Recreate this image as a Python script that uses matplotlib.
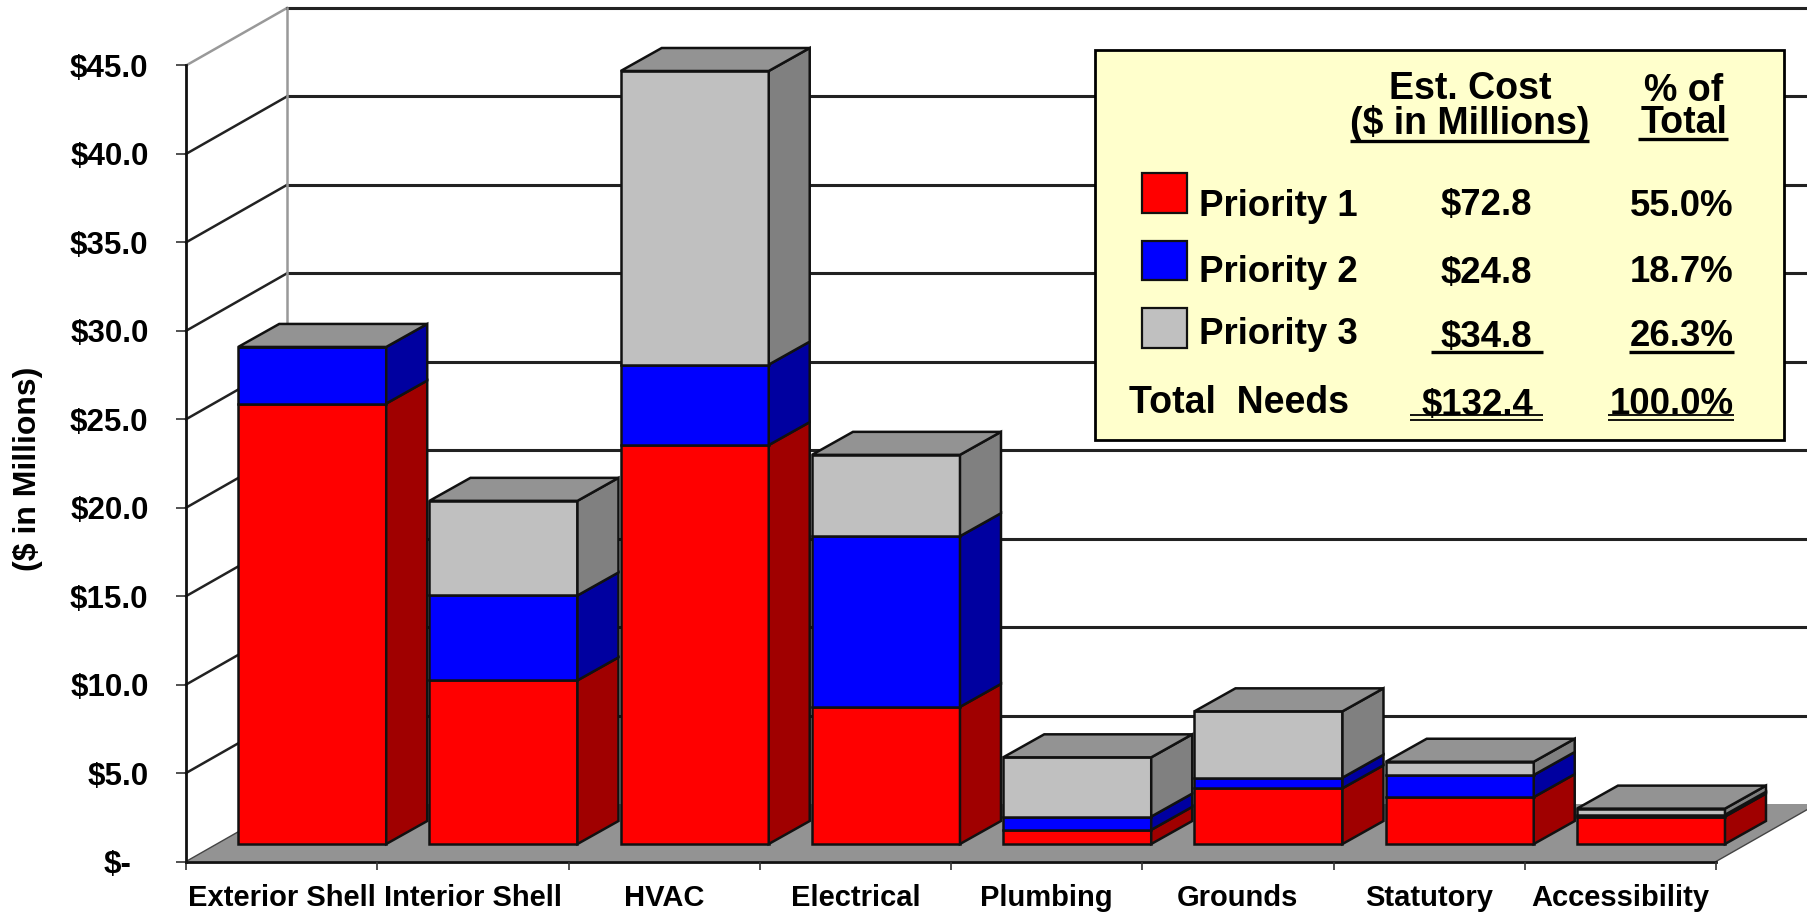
import numpy as np
import matplotlib
matplotlib.use("Agg")
import matplotlib.pyplot as plt
from matplotlib.patches import Polygon, Rectangle
from matplotlib.transforms import ScaledTranslation

plt.rcParams['font.family'] = ['Liberation Sans', 'DejaVu Sans']
plt.rcParams['font.weight'] = 'bold'

W, H = 1807, 913

# data
categories = ['Exterior Shell', 'Interior Shell', 'HVAC', 'Electrical',
              'Plumbing', 'Grounds', 'Statutory', 'Accessibility']
priority1 = [24.9, 9.25, 22.55, 7.75, 0.8, 3.15, 2.65, 1.55]
priority2 = [3.2, 4.8, 4.55, 9.65, 0.75, 0.6, 1.25, 0.1]
priority3 = [0.0, 5.35, 16.6, 4.6, 3.35, 3.75, 0.75, 0.35]
y_ticks = [0, 5, 10, 15, 20, 25, 30, 35, 40, 45]
y_labels = ['$-', '$5.0', '$10.0', '$15.0', '$20.0', '$25.0', '$30.0', '$35.0', '$40.0', '$45.0']

legend_names = ['Priority 1', 'Priority 2', 'Priority 3']
legend_costs = ['$72.8', '$24.8', '$34.8']
legend_pcts = ['55.0%', '18.7%', '26.3%']
total_cost = '$132.4'
total_pct = '100.0%'

# colours: front, side
front_cols = ['#FF0000', '#0000FF', '#C0C0C0']
side_cols = ['#A00000', '#0000A0', '#808080']
top_col = '#939393'
ink = '#111111'

fig = plt.figure(figsize=(W/100, H/100), dpi=100)
# the axes box is the front plane of the chart
ax = fig.add_axes([186/W, 1-861.5/H, 1530/W, 796/H])
ax.set_xlim(0, 8)
ax.set_ylim(0, 45)
ux, uy = 1530/8, 796/45  # pixels per data unit

# wall depth and bar depth, in data units
wall_dx, wall_dy = 101/ux, 57.5/uy
bar_dx, bar_dy = 41/ux, 23/uy
lift_x, lift_y = 30.6/ux, 17.5/uy
bar_w = 148/ux

# floor
ax.add_patch(Polygon([(0, 0), (8, 0), (8+wall_dx, wall_dy), (wall_dx, wall_dy)],
                     closed=True, fc=top_col, ec='none', clip_on=False, zorder=1))
ax.plot([8, 8+wall_dx], [0, wall_dy], color='#444444', lw=1, clip_on=False, zorder=1.1)
ax.plot([0, 8], [0, 0], color=ink, lw=2, clip_on=False, zorder=1.2)

# walls and gridlines
for v in y_ticks:
    c = '#999999' if v == 45 else '#222222'
    if v > 0:
        ax.plot([0, wall_dx], [v, v+wall_dy], color=c, lw=1.8, clip_on=False, zorder=0.5)
        ax.plot([wall_dx, 8+wall_dx], [v+wall_dy, v+wall_dy], color='#222222', lw=2.2,
                clip_on=False, zorder=0.5)
ax.plot([wall_dx, wall_dx], [wall_dy, 45+wall_dy], color='#999999', lw=1.8,
        clip_on=False, zorder=0.6)
ax.plot([0, wall_dx], [0, wall_dy], color='#444444', lw=1, clip_on=False, zorder=1.1)

# stacked bars
x_pos = np.arange(len(categories)) + 0.5 + lift_x
bottom = np.zeros(len(categories)) + lift_y
for vals, fc, sc in zip([priority1, priority2, priority3], front_cols, side_cols):
    vals = np.array(vals)
    ax.bar(x_pos, vals, bar_w, bottom=bottom, color=fc, edgecolor=ink, linewidth=1.8,
           clip_on=False, zorder=3)
    for xc, b, v in zip(x_pos, bottom, vals):
        if v > 0:
            xr = xc + bar_w/2
            ax.add_patch(Polygon([(xr, b), (xr+bar_dx, b+bar_dy), (xr+bar_dx, b+v+bar_dy), (xr, b+v)],
                                 closed=True, fc=sc, ec=ink, lw=1.8, clip_on=False, zorder=3))
    bottom = bottom + vals
# top faces
for xc, t in zip(x_pos, bottom):
    xl, xr = xc-bar_w/2, xc+bar_w/2
    ax.add_patch(Polygon([(xl, t), (xr, t), (xr+bar_dx, t+bar_dy), (xl+bar_dx, t+bar_dy)],
                         closed=True, fc=top_col, ec=ink, lw=1.8, clip_on=False, zorder=3))

# axes
for s in ['top', 'right', 'bottom']:
    ax.spines[s].set_visible(False)
ax.spines['left'].set_linewidth(2)
ax.spines['left'].set_color(ink)
ax.patch.set_visible(False)
ax.set_yticks(y_ticks)
ax.set_yticklabels(y_labels, fontsize=22.5, fontweight='bold')
ax.tick_params(axis='y', length=7, width=1.2, pad=20, color='#333333')
ax.set_xticks(np.arange(9))
ax.set_xticklabels([])
ax.tick_params(axis='x', which='major', length=6, width=1.2, color='#333333')
ax.set_xticks(np.arange(8)+0.5, minor=True)
ax.set_xticklabels(categories, minor=True, fontsize=21, fontweight='bold')
ax.tick_params(axis='x', which='minor', length=0, pad=16.5)
# the "$-" label sits further left than the others
lab0 = ax.get_yticklabels()[0]
lab0.set_transform(lab0.get_transform() + ScaledTranslation(-17/100, 0, fig.dpi_scale_trans))

fig.text(28/W, 1-469/H, '($ in Millions)', rotation=90, fontsize=23, fontweight='bold',
         ha='center', va='center')

# legend panel, in pixel coordinates
lg = fig.add_axes([0, 0, 1, 1])
lg.set_xlim(0, W)
lg.set_ylim(H, 0)
lg.axis('off')
lg.add_patch(Rectangle((1095, 50), 689, 390, fc='#FFFFCC', ec='black', lw=2))

def txt(x, y, s, ha='center', fs=26.4):
    lg.text(x, y, s, fontsize=fs, fontweight='bold', ha=ha, va='center_baseline')

def rule(x0, x1, y, lw=2.4):
    lg.plot([x0, x1], [y, y], color='black', lw=lw, solid_capstyle='butt')

txt(1470, 85, 'Est. Cost', fs=27)
txt(1470, 120, '($ in Millions)', fs=27)
rule(1350, 1589, 141)
txt(1684, 87, '% of', fs=27)
txt(1684, 119, 'Total', fs=27)
rule(1638, 1728, 139)

swatch_y = [173, 241, 308]
swatch_h = [40, 39, 40]
name_y = [202, 268, 331]
val_y = [202, 269, 333]
for i in range(3):
    lg.add_patch(Rectangle((1142, swatch_y[i]), 45, swatch_h[i], fc=front_cols[i], ec='#111111', lw=1.6))
    txt(1199, name_y[i], legend_names[i], ha='left')
    txt(1486, val_y[i], legend_costs[i])
    txt(1734, val_y[i], legend_pcts[i], ha='right')
rule(1431, 1543, 352)
rule(1629, 1734, 352)

txt(1129, 399, 'Total  Needs', ha='left', fs=27)
txt(1477, 401, total_cost)
txt(1734, 401, total_pct, ha='right')
for y in [415, 420.5]:
    rule(1410, 1543, y, lw=1.3)
    rule(1608, 1734, y, lw=1.3)

fig.savefig('out.png', dpi=100)
